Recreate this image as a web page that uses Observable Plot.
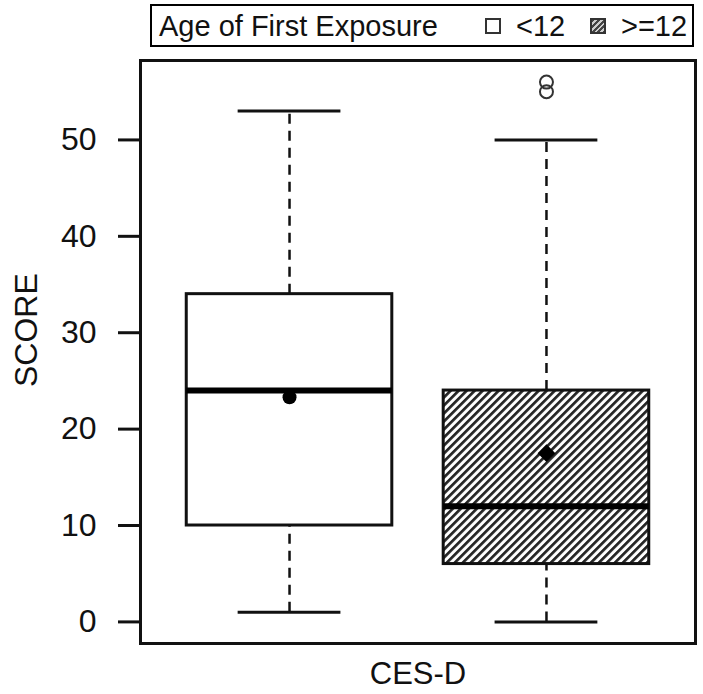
<!DOCTYPE html>
<html>
<head>
<meta charset="utf-8">
<script src="https://cdn.jsdelivr.net/npm/d3@7"></script>
<script src="https://cdn.jsdelivr.net/npm/@observablehq/plot@0.6"></script>
<style>
  body { margin: 0; background: #fff; font-family: "Liberation Sans", Arial, sans-serif; }
  #legend { position: relative; margin: 4px 0 0 150px; width: 544px; height: 43px; box-sizing: border-box; border: 2px solid #000; font-size: 29px; color: #111; }
  #legend span, #legend i { position: absolute; top: 50%; transform: translateY(-50%); line-height: 1; }
  #legend i { display: block; width: 16px; height: 16px; box-sizing: border-box; border: 2px solid #333; }
  #legend i.hatch { background: repeating-linear-gradient(135deg, #444 0 2px, #ccc 2px 4px); }
</style>
</head>
<body>
<div id="legend"></div>
<div id="chart"></div>
<script>
// ---- data ----
const legendTitle = "Age of First Exposure";
const groups = ["<12", ">=12"];
const positions = [1, 2];
const q1 = [10, 6];
const median = [24, 12];
const q3 = [34, 24];
const whiskerLow = [1, 0];
const whiskerHigh = [53, 50];
const means = [23.3, 17.5];
const outlierGroups = [">=12", ">=12"];
const outlierValues = [55, 56];
const yTicks = [0, 10, 20, 30, 40, 50];
const yLabel = "SCORE";
const xLabel = "CES-D";

// ---- tables ----
const boxes = groups.map((g, i) => ({
  group: g, pos: positions[i], q1: q1[i], med: median[i], q3: q3[i],
  lo: whiskerLow[i], hi: whiskerHigh[i], mean: means[i]
}));
const outliers = outlierValues.map((v, i) => ({
  group: outlierGroups[i], pos: positions[groups.indexOf(outlierGroups[i])], value: v
}));

// ---- legend ----
const legend = document.getElementById("legend");
legend.innerHTML =
  `<span style="left:7px">${legendTitle}</span>` +
  `<i style="left:333px"></i>` +
  `<span style="left:364px">&lt;12</span>` +
  `<i class="hatch" style="left:438px"></i>` +
  `<span style="left:469px">&gt;=12</span>`;

const boxHalf = 0.4, capHalf = 0.2;
const font = "Liberation Sans, Arial, sans-serif";

const chart = Plot.plot({
  width: 703,
  height: 647,
  marginLeft: 140,
  marginRight: 8,
  marginTop: 13,
  marginBottom: 51,
  style: { fontFamily: font, background: "white", color: "#111" },
  x: { domain: [0.42, 2.58], axis: null },
  y: { domain: [-2.24, 58.24], axis: null },
  marks: [
    // whiskers
    Plot.ruleX(boxes, { x: "pos", y1: "q3", y2: "hi", stroke: "#111", strokeWidth: 2.5, strokeDasharray: "10,7" }),
    Plot.ruleX(boxes, { x: "pos", y1: "lo", y2: "q1", stroke: "#111", strokeWidth: 2.5, strokeDasharray: "10,7" }),
    Plot.ruleY(boxes, { y: "hi", x1: d => d.pos - capHalf, x2: d => d.pos + capHalf, stroke: "#111", strokeWidth: 3 }),
    Plot.ruleY(boxes, { y: "lo", x1: d => d.pos - capHalf, x2: d => d.pos + capHalf, stroke: "#111", strokeWidth: 3 }),
    // boxes
    Plot.rect(boxes, { filter: d => d.group === groups[0], x1: d => d.pos - boxHalf, x2: d => d.pos + boxHalf, y1: "q1", y2: "q3", fill: "white", stroke: "#111", strokeWidth: 3 }),
    Plot.rect(boxes, { filter: d => d.group === groups[1], x1: d => d.pos - boxHalf, x2: d => d.pos + boxHalf, y1: "q1", y2: "q3", fill: "url(#hatch)", stroke: "#111", strokeWidth: 3 }),
    // medians
    Plot.ruleY(boxes, { y: "med", x1: d => d.pos - boxHalf, x2: d => d.pos + boxHalf, stroke: "#000", strokeWidth: 6 }),
    // means
    Plot.dot(boxes, { filter: d => d.group === groups[0], x: "pos", y: "mean", r: 7, fill: "#000", symbol: "circle" }),
    Plot.dot(boxes, { filter: d => d.group === groups[1], x: "pos", y: "mean", r: 8, fill: "#000", symbol: "diamond2" }),
    // outliers
    Plot.dot(outliers, { x: "pos", y: "value", r: 6.5, fill: "none", stroke: "#333", strokeWidth: 2 }),
    // frame and axes
    Plot.frame({ stroke: "#111", strokeWidth: 3 }),
    Plot.axisY({ ticks: yTicks, tickSize: 22, tickPadding: 22, fontSize: 32, label: null, strokeWidth: 3 }),
    Plot.text([yLabel], { frameAnchor: "left", dx: -114, dy: 35, rotate: -90, fontSize: 32, fill: "#111" }),
    Plot.text([xLabel], { frameAnchor: "bottom", dy: 40, fontSize: 31, fill: "#111" })
  ]
});

// hatch pattern
const defs = d3.select(chart).insert("defs", ":first-child");
const pat = defs.append("pattern")
  .attr("id", "hatch")
  .attr("patternUnits", "userSpaceOnUse")
  .attr("width", 5.66).attr("height", 5.66)
  .attr("patternTransform", "rotate(45)");
pat.append("rect").attr("width", 5.66).attr("height", 5.66).attr("fill", "#fff");
pat.append("rect").attr("width", 2.7).attr("height", 5.66).attr("fill", "#222");

document.getElementById("chart").appendChild(chart);
</script>
</body>
</html>
